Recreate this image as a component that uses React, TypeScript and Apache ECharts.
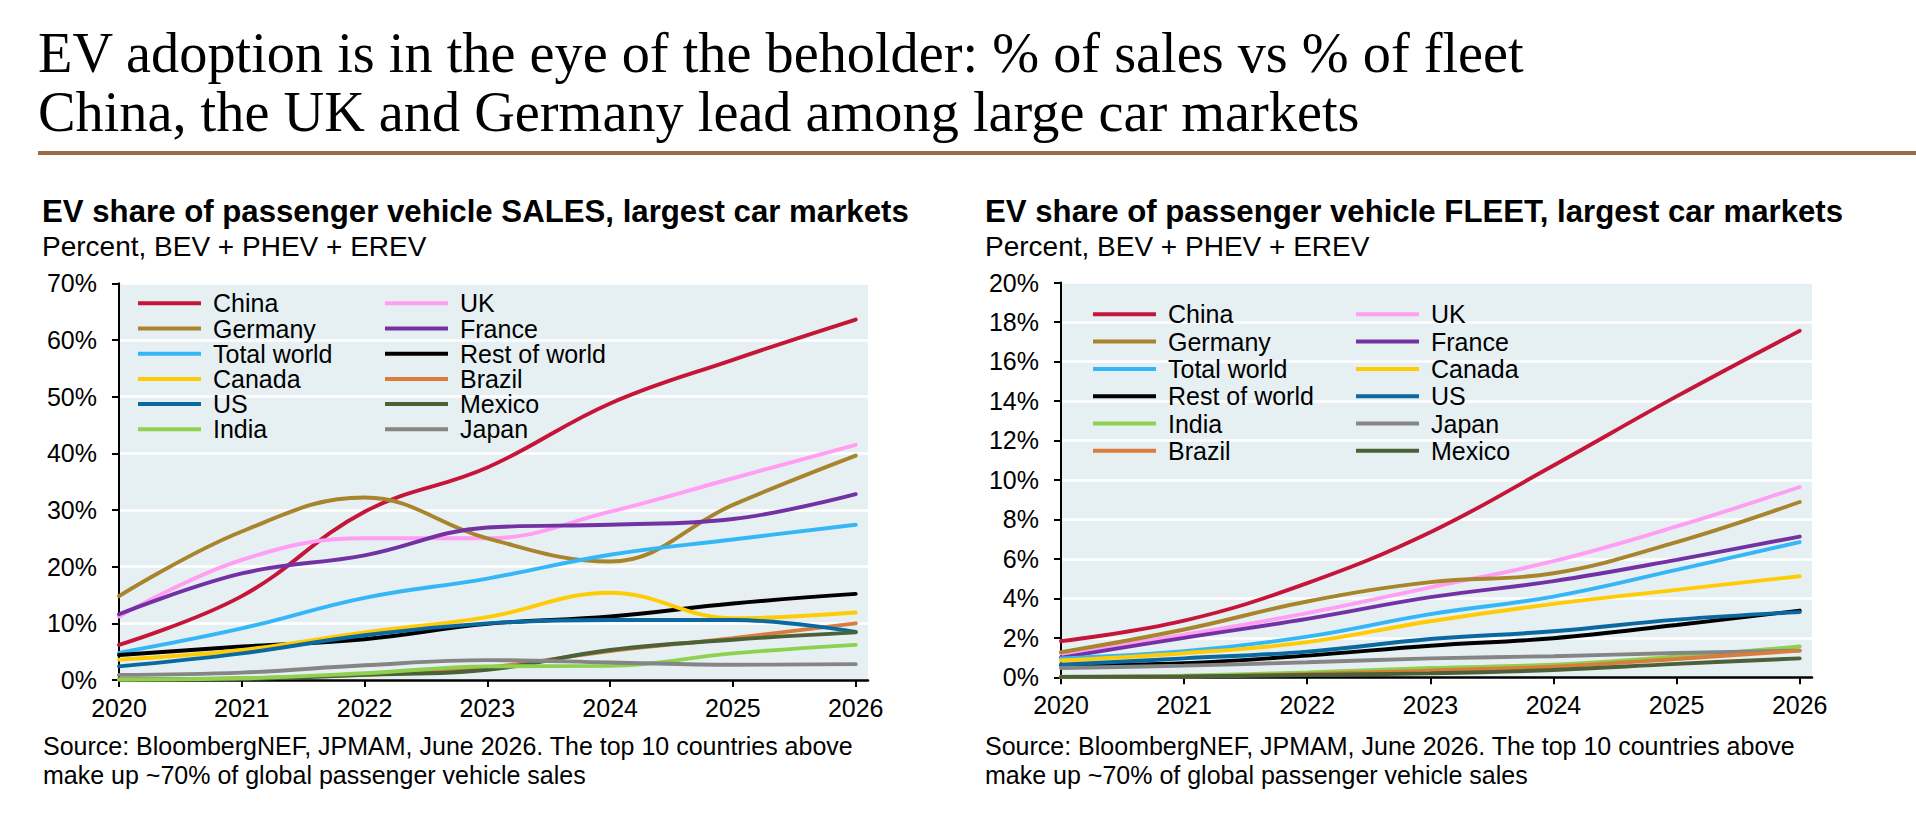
import React, { useEffect, useRef } from "react";
import * as echarts from "echarts";

const YEARS = [2020, 2021, 2022, 2023, 2024, 2025, 2026];

// EV share of SALES (%)
const salesChina = [6.2, 14.8, 29.7, 37.5, 48.8, 56.5, 63.6];
const salesUK = [11.2, 21.2, 25.0, 25.0, 29.7, 35.6, 41.5];
const salesGermany = [14.8, 26.2, 32.2, 25.0, 20.9, 30.9, 39.6];
const salesFrance = [11.6, 18.8, 22.0, 26.9, 27.4, 28.4, 32.8];
const salesWorld = [4.8, 9.1, 14.5, 17.9, 22.1, 24.8, 27.4];
const salesRest = [4.4, 5.9, 7.2, 9.9, 11.2, 13.5, 15.2];
const salesCanada = [3.6, 5.3, 8.4, 11.1, 15.4, 10.9, 11.9];
const salesBrazil = [0.1, 0.3, 0.9, 2.2, 5.1, 7.4, 10.0];
const salesUS = [2.4, 4.7, 7.9, 10.0, 10.6, 10.6, 8.5];
const salesMexico = [0.1, 0.2, 0.9, 1.8, 5.3, 7.1, 8.4];
const salesIndia = [0.1, 0.3, 1.2, 2.4, 2.5, 4.7, 6.2];
const salesJapan = [0.9, 1.3, 2.6, 3.5, 3.1, 2.7, 2.8];

// EV share of FLEET (%)
const fleetChina = [1.83, 2.87, 4.77, 7.35, 10.73, 14.23, 17.55];
const fleetUK = [1.2, 2.16, 3.25, 4.56, 5.88, 7.64, 9.64];
const fleetGermany = [1.27, 2.42, 3.84, 4.82, 5.27, 6.85, 8.88];
const fleetFrance = [1.0, 2.0, 2.96, 4.06, 4.87, 5.95, 7.13];
const fleetWorld = [0.96, 1.32, 2.06, 3.2, 4.09, 5.44, 6.85];
const fleetCanada = [0.85, 1.22, 1.78, 2.84, 3.72, 4.43, 5.12];
const fleetRest = [0.62, 0.72, 1.1, 1.6, 1.98, 2.65, 3.38];
const fleetUS = [0.64, 0.96, 1.3, 1.94, 2.33, 2.92, 3.3];
const fleetIndia = [0.03, 0.08, 0.25, 0.47, 0.64, 1.05, 1.56];
const fleetJapan = [0.47, 0.59, 0.76, 0.96, 1.07, 1.23, 1.35];
const fleetBrazil = [0.02, 0.04, 0.17, 0.34, 0.54, 0.93, 1.35];
const fleetMexico = [0.02, 0.04, 0.12, 0.2, 0.37, 0.68, 0.96];

const SALES_TICKS = [0, 70, 10];
const FLEET_TICKS = [0, 20, 2];

const COLORS: Record<string, string> = {
  China: "#C5163A",
  UK: "#FF9EF2",
  Germany: "#A8842C",
  France: "#7332A4",
  "Total world": "#35B6F7",
  "Rest of world": "#000000",
  Canada: "#FFCB05",
  Brazil: "#D97C3C",
  US: "#0A69A0",
  Mexico: "#4B6138",
  India: "#8ED14F",
  Japan: "#858585",
};

const SALES_SERIES: [string, number[]][] = [
  ["China", salesChina],
  ["UK", salesUK],
  ["Germany", salesGermany],
  ["France", salesFrance],
  ["Total world", salesWorld],
  ["Rest of world", salesRest],
  ["Canada", salesCanada],
  ["Brazil", salesBrazil],
  ["US", salesUS],
  ["Mexico", salesMexico],
  ["India", salesIndia],
  ["Japan", salesJapan],
];

const FLEET_SERIES: [string, number[]][] = [
  ["China", fleetChina],
  ["UK", fleetUK],
  ["Germany", fleetGermany],
  ["France", fleetFrance],
  ["Total world", fleetWorld],
  ["Canada", fleetCanada],
  ["Rest of world", fleetRest],
  ["US", fleetUS],
  ["India", fleetIndia],
  ["Japan", fleetJapan],
  ["Brazil", fleetBrazil],
  ["Mexico", fleetMexico],
];

const SALES_LEGEND_COL1 = ["China", "Germany", "Total world", "Canada", "US", "India"];
const SALES_LEGEND_COL2 = ["UK", "France", "Rest of world", "Brazil", "Mexico", "Japan"];
const FLEET_LEGEND_COL1 = ["China", "Germany", "Total world", "Rest of world", "India", "Brazil"];
const FLEET_LEGEND_COL2 = ["UK", "France", "Canada", "US", "Japan", "Mexico"];

const TITLE1 = "EV adoption is in the eye of the beholder: % of sales vs % of fleet";
const TITLE2 = "China, the UK and Germany lead among large car markets";
const SALES_TITLE = "EV share of passenger vehicle SALES, largest car markets";
const FLEET_TITLE = "EV share of passenger vehicle FLEET, largest car markets";
const UNIT = "Percent, BEV + PHEV + EREV";
const SOURCE1 = "Source: BloombergNEF, JPMAM, June 2026. The top 10 countries above";
const SOURCE2 = "make up ~70% of global passenger vehicle sales";

const SANS = '"Liberation Sans", Arial, Helvetica, sans-serif';
const SERIF = '"Liberation Serif", "Times New Roman", serif';

function makeSeries(list: [string, number[]][], idx: number) {
  return list.map(([name, vals]) => ({
    type: "line",
    name,
    xAxisIndex: idx,
    yAxisIndex: idx,
    data: YEARS.map((y, i) => [y, vals[i]]),
    smooth: 0.4,
    symbol: "none",
    showSymbol: false,
    lineStyle: { width: 3.9, color: COLORS[name], cap: "round" },
    itemStyle: { color: COLORS[name] },
    emphasis: { disabled: true },
  }));
}

function makeX(idx: number) {
  return {
    type: "value",
    gridIndex: idx,
    min: 2020,
    max: 2026.1,
    interval: 1,
    axisLine: { show: true, onZero: false, lineStyle: { color: "#000", width: 2.5 } },
    axisTick: { show: true, customValues: YEARS, length: 7, lineStyle: { color: "#000", width: 2 } },
    axisLabel: {
      customValues: YEARS,
      fontSize: 25,
      fontFamily: SANS,
      color: "#000",
      margin: 15,
      formatter: (v: number) => String(v),
    },
    splitLine: { show: false },
  };
}

function makeY(idx: number, ticks: number[]) {
  return {
    type: "value",
    gridIndex: idx,
    min: ticks[0],
    max: ticks[1],
    interval: ticks[2],
    axisLine: { show: true, lineStyle: { color: "#000", width: 2 } },
    axisTick: { show: true, length: 7, lineStyle: { color: "#000", width: 2 } },
    axisLabel: { formatter: "{value}%", fontSize: 25, fontFamily: SANS, color: "#000", margin: 22 },
    splitLine: { show: true, lineStyle: { color: "#ffffff", width: 2.5 } },
  };
}

function makeLegend(data: string[], left: number, top: number, gap: number) {
  return {
    orient: "vertical",
    left,
    top,
    padding: 0,
    itemGap: gap,
    itemWidth: 63,
    itemHeight: 4,
    icon: "rect",
    selectedMode: false,
    data,
    textStyle: { fontSize: 25, lineHeight: 25, fontFamily: SANS, color: "#000", padding: [0, 0, 0, 7] },
  };
}

function txt(text: string, x: number, y: number, size: number, family: string, weight = "normal") {
  return {
    type: "text",
    x,
    y,
    silent: true,
    style: { text, fontSize: size, fontFamily: family, fontWeight: weight, fill: "#000", verticalAlign: "middle", align: "left" },
  };
}

export default function App() {
  const ref = useRef<HTMLDivElement>(null);
  useEffect(() => {
    if (!ref.current) return;
    const chart = echarts.init(ref.current, undefined, { renderer: "svg" });
    chart.setOption({
      animation: false,
      backgroundColor: "#ffffff",
      grid: [
        { left: 119, top: 283.3, width: 749, height: 396.7, show: true, backgroundColor: "#e6f0f3", borderWidth: 0 },
        { left: 1061, top: 282.5, width: 751, height: 394.8, show: true, backgroundColor: "#e6f0f3", borderWidth: 0 },
      ],
      xAxis: [makeX(0), makeX(1)],
      yAxis: [makeY(0, SALES_TICKS), makeY(1, FLEET_TICKS)],
      legend: [
        makeLegend(SALES_LEGEND_COL1, 138, 290.8, 0.2),
        makeLegend(SALES_LEGEND_COL2, 385, 290.8, 0.2),
        makeLegend(FLEET_LEGEND_COL1, 1093, 301.8, 2.3),
        makeLegend(FLEET_LEGEND_COL2, 1356, 301.8, 2.3),
      ],
      series: [...makeSeries(SALES_SERIES, 0), ...makeSeries(FLEET_SERIES, 1)],
      graphic: [
        txt(TITLE1, 38, 52.7, 56.3, SERIF),
        txt(TITLE2, 38, 112, 56.3, SERIF),
        { type: "rect", silent: true, shape: { x: 38, y: 151, width: 1916 - 38, height: 4 }, style: { fill: "#9C6B48" } },
        txt(SALES_TITLE, 42, 211.5, 31.2, SANS, "bold"),
        txt(UNIT, 42, 246.3, 28, SANS),
        txt(FLEET_TITLE, 985, 211.5, 31.2, SANS, "bold"),
        txt(UNIT, 985, 246.3, 28, SANS),
        txt(SOURCE1, 43, 746, 25, SANS),
        txt(SOURCE2, 43, 775, 25, SANS),
        txt(SOURCE1, 985, 746, 25, SANS),
        txt(SOURCE2, 985, 775, 25, SANS),
      ],
    });
    return () => chart.dispose();
  }, []);
  return (
    <div
      ref={ref}
      style={{ position: "fixed", left: 0, top: 0, width: 1916, height: 834, background: "#fff" }}
    />
  );
}
